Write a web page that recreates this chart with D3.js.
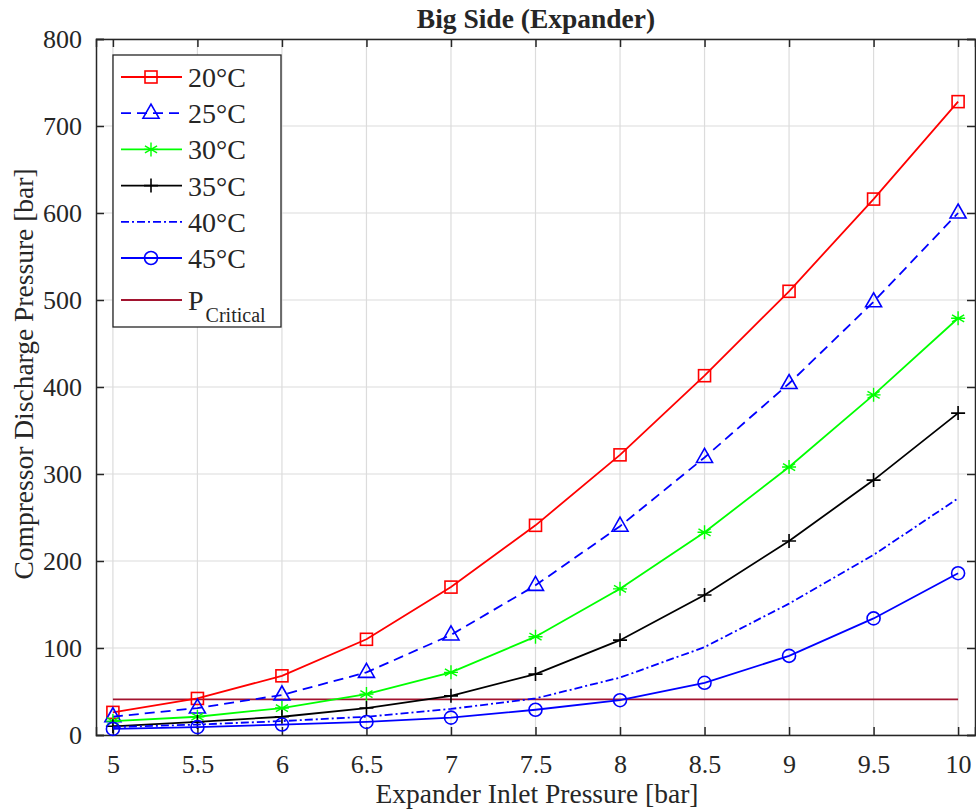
<!DOCTYPE html>
<html>
<head>
<meta charset="utf-8">
<script src="https://cdn.jsdelivr.net/npm/d3@7"></script>
<style>
  body { margin: 0; background: #fff; }
  svg text { font-family: "Liberation Serif", "Times New Roman", serif; fill: #262626; }
</style>
</head>
<body>
<svg id="chart" width="976" height="809"></svg>
<script>
// data
var inletPressure = [5, 5.5, 6, 6.5, 7, 7.5, 8, 8.5, 9, 9.5, 10];
var t20 = [26, 42, 68, 110, 170, 241, 322, 413, 510, 616, 728];
var t25 = [21, 31, 46, 72, 115, 172, 240, 319, 404, 498, 600];
var t30 = [16, 21, 31, 47, 72, 113, 168, 233, 308, 391, 479];
var t35 = [10, 15, 21, 31, 45, 70, 109, 161, 223, 293, 370];
var t40 = [9, 12, 16, 21, 30, 42, 66, 101, 151, 207, 272];
var t45 = [7, 9, 12, 15, 20, 29, 40, 60, 91, 134, 186];
var pCritical = 41;
var xTicks = [5, 5.5, 6, 6.5, 7, 7.5, 8, 8.5, 9, 9.5, 10];
var yTicks = [0, 100, 200, 300, 400, 500, 600, 700, 800];

var series = [
  {name: '20°C', values: t20, color: '#ff0000', dash: null, marker: 'square'},
  {name: '25°C', values: t25, color: '#0000ff', dash: '10,6', marker: 'triangle'},
  {name: '30°C', values: t30, color: '#00ff00', dash: null, marker: 'star'},
  {name: '35°C', values: t35, color: '#000000', dash: null, marker: 'plus'},
  {name: '40°C', values: t40, color: '#0000ff', dash: '8,3,2,3', marker: 'none'},
  {name: '45°C', values: t45, color: '#0000ff', dash: null, marker: 'circle'}
];
var critColor = '#a2142f';

var svg = d3.select('#chart');
var margin = {l: 96, t: 39, r: 975, b: 735};

var xScale = d3.scaleLinear().domain([4.9, 10.1]).range([margin.l, margin.r]);
var yScale = d3.scaleLinear().domain([0, 800]).range([margin.b, margin.t]);

// grid
var grid = svg.append('g').attr('class', 'grid');
grid.selectAll('.vgrid').data(xTicks).enter().append('line')
  .attr('x1', function(d){ return xScale(d); }).attr('x2', function(d){ return xScale(d); })
  .attr('y1', margin.t).attr('y2', margin.b)
  .attr('stroke', '#dcdcdc').attr('stroke-width', 1.2);
grid.selectAll('.hgrid').data(yTicks).enter().append('line')
  .attr('y1', function(d){ return yScale(d); }).attr('y2', function(d){ return yScale(d); })
  .attr('x1', margin.l).attr('x2', margin.r)
  .attr('stroke', '#dcdcdc').attr('stroke-width', 1.2);

// axes (ticks pointing inward, MATLAB style)
var tickLen = 8;
svg.append('g').attr('transform', 'translate(0,' + margin.b + ')')
  .call(d3.axisBottom(xScale).tickValues(xTicks).tickSize(-tickLen).tickPadding(20).tickFormat(d3.format('')))
  .call(styleAxis);
svg.append('g').attr('transform', 'translate(0,' + margin.t + ')')
  .call(d3.axisTop(xScale).tickValues(xTicks).tickSize(-tickLen).tickFormat(''))
  .call(styleAxis);
svg.append('g').attr('transform', 'translate(' + margin.l + ',0)')
  .call(d3.axisLeft(yScale).tickValues(yTicks).tickSize(-tickLen).tickPadding(14))
  .call(styleAxis);
svg.append('g').attr('transform', 'translate(' + margin.r + ',0)')
  .call(d3.axisRight(yScale).tickValues(yTicks).tickSize(-tickLen).tickFormat(''))
  .call(styleAxis);

function styleAxis(g) {
  g.select('.domain').attr('stroke', '#262626').attr('stroke-width', 1.5);
  g.selectAll('.tick line').attr('stroke', '#262626').attr('stroke-width', 1.5);
  g.selectAll('.tick text').attr('font-size', 26).attr('font-family', '"Liberation Serif", serif').attr('fill', '#262626');
}

// critical pressure line
svg.append('line')
  .attr('x1', xScale(inletPressure[0])).attr('x2', xScale(inletPressure[inletPressure.length - 1]))
  .attr('y1', yScale(pCritical)).attr('y2', yScale(pCritical))
  .attr('stroke', critColor).attr('stroke-width', 1.6);

var line = d3.line()
  .x(function(d, i){ return xScale(inletPressure[i]); })
  .y(function(d){ return yScale(d); });

function drawMarker(g, type, x, y, color) {
  if (type === 'square') {
    g.append('rect').attr('x', x - 6).attr('y', y - 6).attr('width', 12).attr('height', 12)
      .attr('fill', 'none').attr('stroke', color).attr('stroke-width', 1.6);
  } else if (type === 'triangle') {
    g.append('path').attr('d', 'M' + x + ',' + (y - 9) + 'L' + (x + 8) + ',' + (y + 5) + 'L' + (x - 8) + ',' + (y + 5) + 'Z')
      .attr('fill', 'none').attr('stroke', color).attr('stroke-width', 1.6);
  } else if (type === 'circle') {
    g.append('circle').attr('cx', x).attr('cy', y).attr('r', 6.5)
      .attr('fill', 'none').attr('stroke', color).attr('stroke-width', 1.6);
  } else if (type === 'plus') {
    g.append('path').attr('d', 'M' + (x - 7) + ',' + y + 'H' + (x + 7) + 'M' + x + ',' + (y - 7) + 'V' + (y + 7))
      .attr('stroke', color).attr('stroke-width', 1.6);
  } else if (type === 'star') {
    var r = 7, p = '';
    [0, 60, 120].forEach(function(a) {
      var rad = (a + 90) * Math.PI / 180;
      p += 'M' + (x - r * Math.cos(rad)) + ',' + (y - r * Math.sin(rad)) + 'L' + (x + r * Math.cos(rad)) + ',' + (y + r * Math.sin(rad));
    });
    p += 'M' + (x - r) + ',' + y + 'H' + (x + r);
    g.append('path').attr('d', p).attr('stroke', color).attr('stroke-width', 1.4);
  }
}

series.forEach(function(s) {
  var g = svg.append('g');
  g.append('path').datum(s.values).attr('d', line)
    .attr('fill', 'none').attr('stroke', s.color).attr('stroke-width', 1.8)
    .attr('stroke-dasharray', s.dash);
  if (s.marker !== 'none') {
    s.values.forEach(function(v, i) {
      drawMarker(g, s.marker, xScale(inletPressure[i]), yScale(v), s.color);
    });
  }
});

// title and axis labels
svg.append('text').attr('x', 536).attr('y', 28).attr('text-anchor', 'middle')
  .attr('font-size', 27.5).attr('font-weight', 'bold').attr('fill', '#000').text('Big Side (Expander)');
svg.append('text').attr('x', 537).attr('y', 803).attr('text-anchor', 'middle')
  .attr('font-size', 27.5).text('Expander Inlet Pressure [bar]');
svg.append('text').attr('transform', 'translate(33,374)rotate(-90)')
  .attr('text-anchor', 'middle').attr('font-size', 27.5).text('Compressor Discharge Pressure [bar]');

// legend
var legend = svg.append('g');
legend.append('rect').attr('x', 113).attr('y', 55).attr('width', 168).attr('height', 272)
  .attr('fill', '#fff').attr('stroke', '#262626').attr('stroke-width', 1.3);
var legendItems = series.concat([{name: 'P', sub: 'Critical', color: critColor, dash: null, marker: 'none'}]);
legendItems.forEach(function(s, i) {
  var y = i < 6 ? 77 + i * 36.2 : 300;
  legend.append('line').attr('x1', 121).attr('x2', 182).attr('y1', y).attr('y2', y)
    .attr('stroke', s.color).attr('stroke-width', 1.8).attr('stroke-dasharray', s.dash);
  if (s.marker !== 'none') drawMarker(legend, s.marker, 151, y, s.color);
  var t = legend.append('text').attr('x', 188).attr('y', y + 10).attr('font-size', 28).attr('fill', '#000');
  t.append('tspan').text(s.name);
  if (s.sub) t.append('tspan').attr('font-size', 20).attr('dy', 12).attr('dx', 2).text(s.sub);
});
</script>
</body>
</html>
